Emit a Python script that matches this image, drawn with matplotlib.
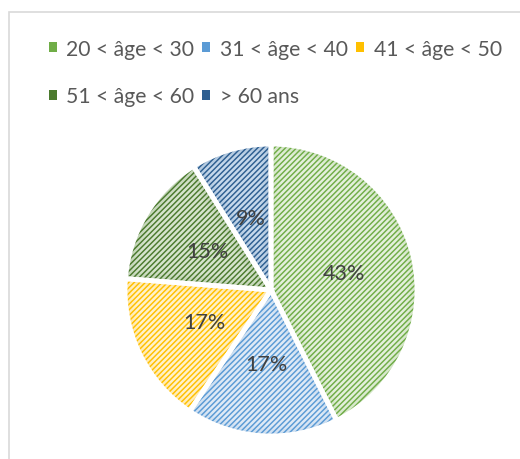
#!/usr/bin/env python3
# -*- coding: utf-8 -*-
import numpy as np
import matplotlib
matplotlib.use("Agg")
import matplotlib.pyplot as plt
import matplotlib.colors as colors
from matplotlib.patches import Patch, Rectangle, Wedge

labels = ["20 < âge < 30", "31 < âge < 40", "41 < âge < 50",
          "51 < âge < 60", "> 60 ans"]
values = [43, 17, 17, 15, 9]
pct_labels = ["43%", "17%", "17%", "15%", "9%"]

# hatch colour and pale background for each slice
line_colors = ["#70ad47", "#5b9bd5", "#ffc000", "#4b7a2e", "#2e5f91"]
back_colors = ["#e4f0dc", "#dfeaf6", "#fff2cc", "#d6e4cd", "#c6d9ec"]

plt.rcParams['font.family'] = ['Lato', 'DejaVu Sans']
plt.rcParams['hatch.linewidth'] = 1.05

W, H = 520, 460
fig = plt.figure(figsize=(W / 100, H / 100), dpi=100)

# light grey chart frame
fig.patches.append(Rectangle((9 / W, -0.1), 1.2, (H - 13) / H + 0.1,
                             transform=fig.transFigure, fill=False,
                             edgecolor="#d9d9d9", linewidth=1.2))

cx, cy, r = 271, 291, 146
ax = fig.add_axes([(cx - r) / W, (H - cy - r) / H, 2 * r / W, 2 * r / H])
wedges, _ = ax.pie(values, startangle=90, counterclock=False,
                   colors=back_colors, radius=1,
                   wedgeprops=dict(edgecolor="none", linewidth=0))
for w, lc in zip(wedges, line_colors):
    w.set_hatch("//////")
    w._hatch_color = colors.to_rgba(lc)
    # soft inner shadow along the slice border
    for lw, a in [(14, 0.05), (9, 0.05), (5, 0.06), (2, 0.08)]:
        s = Wedge(w.center, w.r, w.theta1, w.theta2, fill=False,
                  edgecolor=lc, linewidth=lw, alpha=a, zorder=2)
        ax.add_patch(s)
        s.set_clip_path(w)
    ax.add_patch(Wedge(w.center, w.r, w.theta1, w.theta2, fill=False,
                       edgecolor="white", linewidth=3.5, zorder=3))

for w, txt in zip(wedges, pct_labels):
    ang = np.deg2rad((w.theta1 + w.theta2) / 2)
    ax.text(0.51 * np.cos(ang), 0.51 * np.sin(ang), txt, zorder=4,
            ha="center", va="center", fontsize=15.5, color="#404040")
ax.set_xlim(-1, 1)
ax.set_ylim(-1, 1)
ax.set_aspect("equal")
ax.axis("off")

handles = [Patch(facecolor=lc, edgecolor="none") for lc in line_colors]
order = [0, 3, 1, 4, 2]
fig.legend([handles[i] for i in order], [labels[i] for i in order],
           ncol=3, loc="upper left", bbox_to_anchor=(38 / W, 1 - 29 / H),
           frameon=False, fontsize=15.2, labelcolor="#595959",
           handlelength=0.38, handleheight=0.38, handletextpad=0.47,
           columnspacing=0.36, labelspacing=1.32, borderpad=0)

fig.savefig("out.png", dpi=100)
